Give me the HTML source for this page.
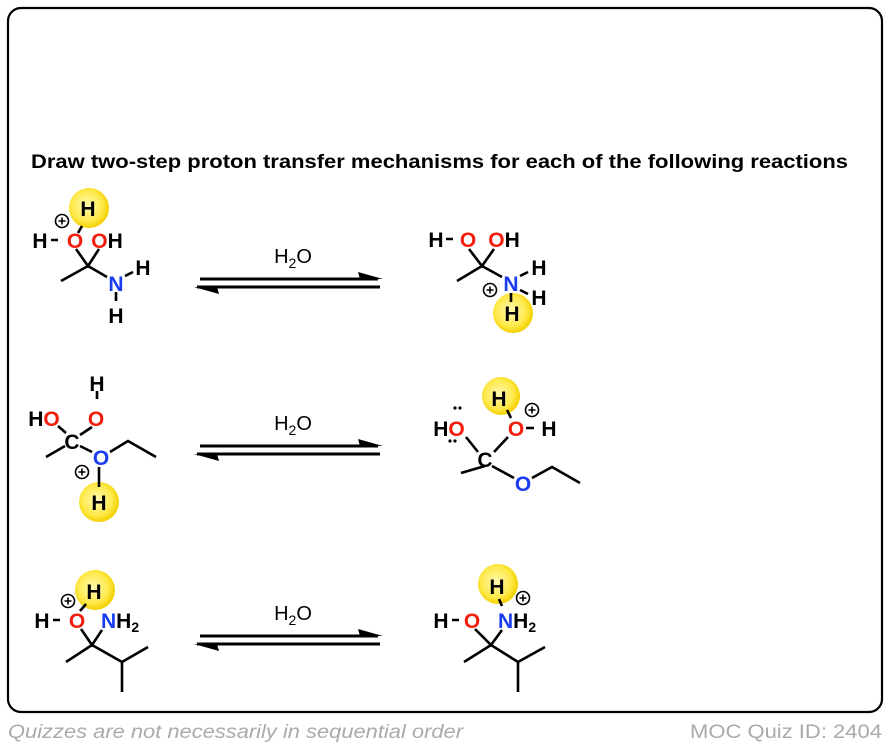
<!DOCTYPE html>
<html><head><meta charset="utf-8"><style>
html,body{margin:0;padding:0;background:#fff;}
svg{display:block;font-family:"Liberation Sans",Arial,sans-serif;}
.a{font-weight:bold;font-size:21px;text-anchor:middle;}
.r{fill:#f21d0d}.b{fill:#1a3cf0}
.bd{stroke:#000;stroke-width:2.6;fill:none;stroke-linecap:butt}
.pl{fill:#fff;stroke:#000;stroke-width:1.6}
</style></head><body>
<svg width="890" height="746" viewBox="0 0 890 746">
<defs>
<radialGradient id="g" cx="45%" cy="45%" r="55%">
<stop offset="0" stop-color="#fff9b0"/><stop offset="0.7" stop-color="#ffe94a"/><stop offset="1" stop-color="#f2d000"/></radialGradient>
<g id="plus"><circle r="6.5" class="pl"/><path d="M-3.5 0H3.5M0 -3.5V3.5" stroke="#000" stroke-width="1.6"/></g>
<g id="arr">
<path d="M200 279H378" stroke="#000" stroke-width="3"/><path d="M358 272L383 279H360Z" fill="#000"/>
<path d="M197 287H380" stroke="#000" stroke-width="3"/><path d="M219 294L194 287H217Z" fill="#000"/>
</g>
</defs>
<rect x="8" y="8" width="874" height="704" rx="13" fill="#fff" stroke="#000" stroke-width="2.2"/>
<text x="31" y="168" font-weight="bold" font-size="19" textLength="817" lengthAdjust="spacingAndGlyphs">Draw two-step proton transfer mechanisms for each of the following reactions</text>

<use href="#arr"/>
<use href="#arr" transform="translate(0,167)"/>
<use href="#arr" transform="translate(0,357)"/>
<g font-size="20" text-anchor="middle">
<text x="293" y="263">H<tspan font-size="14" dy="5">2</tspan><tspan dy="-5">O</tspan></text>
<text x="293" y="430">H<tspan font-size="14" dy="5">2</tspan><tspan dy="-5">O</tspan></text>
<text x="293" y="620">H<tspan font-size="14" dy="5">2</tspan><tspan dy="-5">O</tspan></text>
</g>

<!-- mol 1 -->
<circle cx="89" cy="208" r="20" fill="url(#g)"/>
<path class="bd" d="M78 233L82 226M51 240H58M76 249L88 266L99 249M88 266L61 281M88 266L107 277M125 276L133 272M116 292V301"/>
<use href="#plus" x="62" y="221"/>
<text class="a" x="88" y="216">H</text>
<text class="a" x="40" y="248">H</text><text class="a r" x="75" y="248">O</text>
<text class="a" x="107" y="248"><tspan class="r">O</tspan>H</text>
<text class="a b" x="116" y="291">N</text>
<text class="a" x="143" y="275">H</text>
<text class="a" x="116" y="323">H</text>

<!-- mol 2 -->
<circle cx="513" cy="313" r="20" fill="url(#g)"/>
<path class="bd" d="M446 239H453M469 249L482 266L494 249M482 266L457 281M482 266L502 277M520 276L528 272M520 290L528 294M511 293V302"/>
<use href="#plus" x="490" y="290"/>
<text class="a" x="436" y="247">H</text><text class="a r" x="468" y="247">O</text>
<text class="a" x="504" y="247"><tspan class="r">O</tspan>H</text>
<text class="a b" x="511" y="291">N</text>
<text class="a" x="539" y="275">H</text>
<text class="a" x="539" y="305">H</text>
<text class="a" x="512" y="321">H</text>

<!-- mol 3 -->
<circle cx="99" cy="502" r="20" fill="url(#g)"/>
<path class="bd" d="M97 391V399M58 426L66 433M92 427L80 435M46 457L65 446M80 446L92 452M110 452L128 441L156 457M99 467V487"/>
<use href="#plus" x="82" y="472"/>
<text class="a" x="97" y="391">H</text>
<text class="a" x="44" y="426">H<tspan class="r">O</tspan></text>
<text class="a r" x="96" y="426">O</text>
<text class="a" x="72" y="449">C</text>
<text class="a b" x="101" y="465">O</text>
<text class="a" x="99" y="510">H</text>

<!-- mol 4 -->
<circle cx="501" cy="396" r="19" fill="url(#g)"/>
<path class="bd" d="M507 410L511 418M526 428H534M466 437L478 452M508 437L494 452M485 466L461 473M492 466L514 478M532 478L552 467L580 483"/>
<use href="#plus" x="532" y="410"/>
<text class="a" x="499" y="406">H</text>
<text class="a" x="449" y="436">H<tspan class="r">O</tspan></text>
<text class="a r" x="516" y="436">O</text>
<text class="a" x="549" y="436">H</text>
<text class="a" x="485" y="467">C</text>
<text class="a b" x="523" y="491">O</text>
<g fill="#000"><circle cx="455" cy="408" r="1.6"/><circle cx="460" cy="408" r="1.6"/><circle cx="450" cy="441" r="1.6"/><circle cx="455" cy="441" r="1.6"/></g>

<!-- mol 5 -->
<circle cx="95" cy="590" r="20" fill="url(#g)"/>
<path class="bd" d="M53 620H60M80 611L86 604M81 629L92 645L102 630M92 645L66 662M92 645L122 662L148 647M122 662V692"/>
<use href="#plus" x="68" y="601"/>
<text class="a" x="94" y="599">H</text>
<text class="a" x="42" y="628">H</text><text class="a r" x="77" y="628">O</text>
<text x="101" y="628" font-weight="bold" font-size="21"><tspan class="b">N</tspan>H<tspan font-size="14" dy="4">2</tspan></text>

<!-- mol 6 -->
<circle cx="498" cy="584" r="20" fill="url(#g)"/>
<path class="bd" d="M452 620H459M475 629L491 645L502 630M491 645L464 662M491 645L518 662L545 647M518 662V692M499 599L502 606"/>
<use href="#plus" x="523" y="598"/>
<text class="a" x="497" y="594">H</text>
<text class="a" x="441" y="628">H</text><text class="a r" x="472" y="628">O</text>
<text x="498" y="628" font-weight="bold" font-size="21"><tspan class="b">N</tspan>H<tspan font-size="14" dy="4">2</tspan></text>

<text x="8" y="738" font-size="19" font-style="italic" fill="#aaa" textLength="455" lengthAdjust="spacingAndGlyphs">Quizzes are not necessarily in sequential order</text>
<text x="882" y="738" font-size="19" fill="#aaa" text-anchor="end" textLength="192" lengthAdjust="spacingAndGlyphs">MOC Quiz ID: 2404</text>
</svg>
</body></html>
